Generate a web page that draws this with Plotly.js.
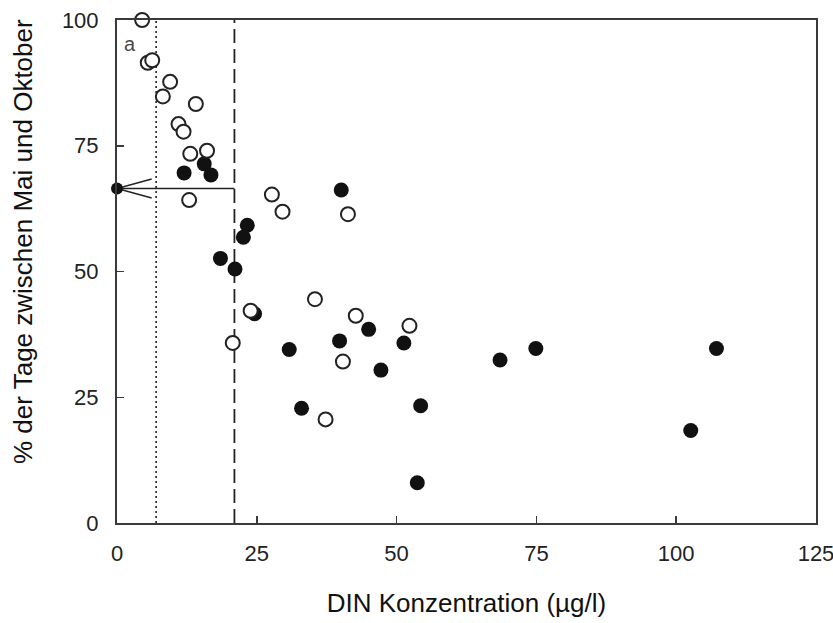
<!DOCTYPE html>
<html>
<head>
<meta charset="utf-8">
<script src="https://cdn.plot.ly/plotly-3.0.1.min.js"></script>
<style>html,body{margin:0;padding:0;background:#fff;}#chart{width:833px;height:623px;}</style>
</head>
<body>
<div id="chart"></div>
<script>
// Open circles
const openX = [4.5, 5.5, 6.3, 9.5, 8.2, 14.1, 11.0, 11.9, 13.1, 16.1, 12.9, 27.7, 29.6, 41.3, 23.9, 35.4, 42.7, 52.3, 20.7, 40.4, 37.3];
const openY = [100, 91.5, 92.0, 87.7, 84.8, 83.3, 79.3, 77.8, 73.4, 74.0, 64.2, 65.3, 61.9, 61.4, 42.2, 44.5, 41.2, 39.2, 35.8, 32.1, 20.6];
// Filled circles
const filledX = [12.0, 15.6, 16.8, 40.1, 23.3, 22.6, 18.5, 21.1, 24.6, 45.0, 51.3, 39.8, 30.8, 47.2, 33.0, 54.3, 68.5, 74.9, 107.2, 102.6, 53.7];
const filledY = [69.6, 71.4, 69.2, 66.2, 59.2, 56.8, 52.6, 50.5, 41.6, 38.5, 35.8, 36.2, 34.5, 30.4, 22.8, 23.3, 32.4, 34.7, 34.7, 18.4, 8.0];
// Threshold lines and read-off value
const dottedX = 7;
const dashedX = 21;
const readOffY = 66.5;
const arrowArmX = 6.2;
const arrowArmDY = 1.9;
const xTicks = [0, 25, 50, 75, 100, 125];
const yTicks = [0, 25, 50, 75, 100];
const panelLabel = "a";
const xTitle = 'DIN Konzentration (µg/l)';
const yTitle = '% der Tage zwischen Mai und Oktober';

const FONT = 'Liberation Sans, Arial, sans-serif';

const traces = [
  { x: [dottedX, dottedX], y: [0, 100], mode: 'lines', line: {color: '#222', width: 1.6, dash: '2px,3px'}, hoverinfo: 'skip' },
  { x: [dashedX, dashedX], y: [0, 100], mode: 'lines', line: {color: '#222', width: 1.8, dash: '14px,6px'}, hoverinfo: 'skip' },
  { x: [dashedX, 0], y: [readOffY, readOffY], mode: 'lines', line: {color: '#222', width: 1.6}, hoverinfo: 'skip' },
  { x: [arrowArmX, 0, arrowArmX], y: [readOffY + arrowArmDY, readOffY, readOffY - arrowArmDY], mode: 'lines', line: {color: '#222', width: 1.6}, hoverinfo: 'skip', cliponaxis: false },
  { x: [0], y: [readOffY], mode: 'markers', marker: {size: 12, color: '#111'}, cliponaxis: false },
  { x: filledX, y: filledY, mode: 'markers', marker: {size: 15, color: '#111', line: {width: 0}}, cliponaxis: false },
  { x: openX, y: openY, mode: 'markers', marker: {size: 14, color: '#fff', line: {color: '#222', width: 2}}, cliponaxis: false }
];

const axisCommon = {
  showline: true, linecolor: '#3a3a3a', linewidth: 2, mirror: true,
  showgrid: false, zeroline: false,
  ticks: 'inside', ticklen: 7, tickwidth: 1.5, tickcolor: '#3a3a3a',
  tickfont: {family: FONT, size: 22, color: '#222'},
  fixedrange: true
};

const layout = {
  width: 833, height: 623,
  margin: {l: 117, r: 17, t: 20, b: 100},
  paper_bgcolor: '#fff', plot_bgcolor: '#fff',
  showlegend: false,
  xaxis: Object.assign({}, axisCommon, {
    range: [0, 125], tickvals: xTicks, ticktext: xTicks.map(String),
    ticklabelstandoff: 10, ticklabeloverflow: 'allow',
    title: {text: xTitle, font: {family: FONT, size: 26, color: '#111'}, standoff: 28}
  }),
  yaxis: Object.assign({}, axisCommon, {
    range: [0, 100], tickvals: yTicks, ticktext: yTicks.map(String),
    ticklabelstandoff: 12
  }),
  annotations: [
    { x: 2.3, y: 95.3, xref: 'x', yref: 'y', text: panelLabel, showarrow: false, font: {family: FONT, size: 20, color: '#4a4a4a'} },
    { x: -0.1345, y: 0.5606, xref: 'paper', yref: 'paper', xanchor: 'center', yanchor: 'middle', textangle: -90,
      text: yTitle, showarrow: false, font: {family: FONT, size: 26, color: '#111'} }
  ]
};

Plotly.newPlot('chart', traces, layout, {displayModeBar: false, staticPlot: true});
</script>
</body>
</html>
